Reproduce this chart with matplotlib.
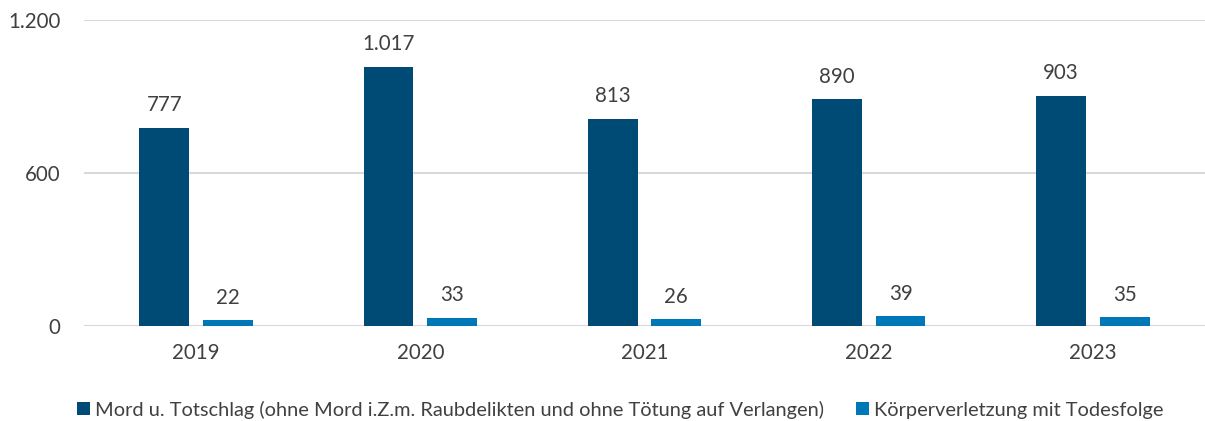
import matplotlib.pyplot as plt
import numpy as np

years = ['2019', '2020', '2021', '2022', '2023']
mord = [777, 1017, 813, 890, 903]
koerper = [22, 33, 26, 39, 35]
series_names = ['Mord u. Totschlag (ohne Mord i.Z.m. Raubdelikten und ohne Tötung auf Verlangen)',
                'Körperverletzung mit Todesfolge']
ytick_vals = [0, 600, 1200]


def de_fmt(v):
    # German thousands separator
    return f'{v:,}'.replace(',', '.')


plt.rcParams['font.family'] = ['Lato', 'DejaVu Sans']
text_col = '#404040'
c_dark = '#004b76'
c_light = '#0077b6'

fig = plt.figure(figsize=(12.05, 4.21), dpi=100)
ax = fig.add_axes([0.0697, 0.2257, 0.9303, 0.7268])

x = np.arange(len(years))
w = 0.222
off = 0.142
b1 = ax.bar(x - off, mord, w, color=c_dark, label=series_names[0], zorder=3)
b2 = ax.bar(x + off, koerper, w, color=c_light, label=series_names[1], zorder=3)

for bars, vals in [(b1, mord), (b2, koerper)]:
    for r, v in zip(bars, vals):
        ax.annotate(de_fmt(v), (r.get_x() + r.get_width() / 2, v),
                    xytext=(0, 9), textcoords='offset points',
                    ha='center', va='bottom', fontsize=14.8, color=text_col)

ax.set_xlim(-0.5, len(years) - 0.5)
ax.set_ylim(0, 1200)
ax.set_yticks(ytick_vals)
ax.set_yticklabels([de_fmt(v) for v in ytick_vals])
ax.set_xticks(x)
ax.set_xticklabels(years)
ax.tick_params(length=0, labelsize=14.8, labelcolor=text_col)
ax.tick_params(axis='y', pad=17)
ax.tick_params(axis='x', pad=12)
ax.yaxis.grid(True, color='#d9d9d9', lw=1.5, zorder=0)
for s in ax.spines.values():
    s.set_visible(False)

ax.legend(loc='upper center', bbox_to_anchor=(0.478, -0.185), ncol=2, frameon=False,
          fontsize=14.4, labelcolor=text_col, handlelength=0.65, handleheight=0.65,
          handletextpad=0.25, columnspacing=1.6)

fig.savefig('out.png', dpi=100)
